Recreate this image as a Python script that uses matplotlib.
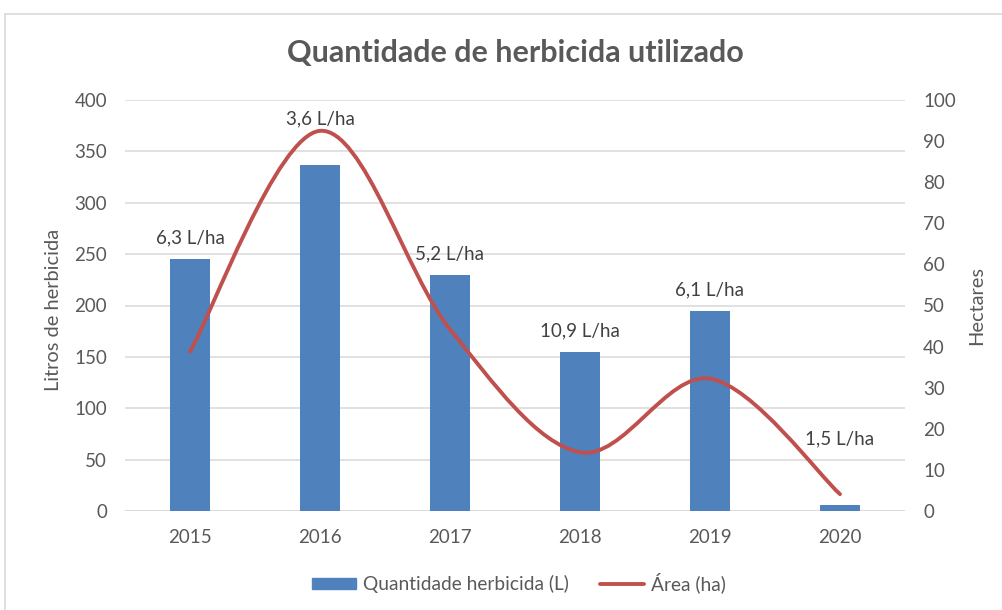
import numpy as np
import matplotlib
matplotlib.use('Agg')
import matplotlib.pyplot as plt
from matplotlib.path import Path
from matplotlib.patches import PathPatch, Rectangle
from matplotlib.lines import Line2D

plt.rcParams['font.family'] = ['Lato', 'DejaVu Sans']

# data
years = ['2015', '2016', '2017', '2018', '2019', '2020']
litros = [245, 337, 230, 155, 195, 6]          # Quantidade herbicida (L)
area = [38.8, 92.5, 44.2, 14.3, 32.2, 4.1]     # Área (ha)
rotulos = ['6,3 L/ha', '3,6 L/ha', '5,2 L/ha', '10,9 L/ha', '6,1 L/ha', '1,5 L/ha']

blue = '#4f81bd'
red = '#c0504d'
grey = '#595959'

fig = plt.figure(figsize=(10.03, 6.10), dpi=100)
# chart border
fig.patches.append(Rectangle((5 / 1003, -0.01), 1.0, (596 + 6) / 610, transform=fig.transFigure,
                             fill=False, ec='#d9d9d9', lw=1.2))

ax = fig.add_axes([125 / 1003, 99 / 610, 780 / 1003, 411 / 610])
ax2 = ax.twinx()

x = np.arange(len(years))
ax.bar(x, litros, width=0.31, color=blue, zorder=2)
ax.set_xlim(-0.5, len(years) - 0.5)
ax.set_ylim(0, 400)
ax.set_yticks(range(0, 401, 50))
ax.set_xticks(x)
ax.set_xticklabels(years)
ax.yaxis.grid(True, color='#d9d9d9', lw=1.1, zorder=0)
ax.set_axisbelow(True)
for a in (ax, ax2):
    for s in a.spines.values():
        s.set_visible(False)
    a.tick_params(length=0, labelsize=13.5, colors=grey, pad=13)
ax.tick_params(axis='x', pad=13)
ax.axhline(0, color='#d9d9d9', lw=1.1, zorder=1)

ax.set_ylabel('Litros de herbicida', fontsize=14.4, color=grey)
ax.yaxis.set_label_coords(-0.081, 0.49)
ax2.set_ylabel('Hectares', fontsize=14.4, color=grey)
ax2.yaxis.set_label_coords(1.081, 0.50)
ax2.set_ylim(0, 100)
ax2.set_yticks(range(0, 101, 10))

# smoothed line (bezier through the points, like Excel smoothing)
pts = np.column_stack([x, area])
verts = [pts[0]]
codes = [Path.MOVETO]
n = len(pts)
for i in range(n - 1):
    p0 = pts[max(i - 1, 0)]
    p1 = pts[i]
    p2 = pts[i + 1]
    p3 = pts[min(i + 2, n - 1)]
    c1 = p1 + (p2 - p0) / 6.0
    c2 = p2 - (p3 - p1) / 6.0
    verts += [c1, c2, p2]
    codes += [Path.CURVE4] * 3
ax2.add_patch(PathPatch(Path(verts, codes), fill=False, ec=red, lw=2.8,
                        capstyle='round', joinstyle='round', zorder=3))

# data labels (pixel offsets of baseline above bar tops)
label_dy = [16, 40, 15, 15, 15, 60]
for i, txt in enumerate(rotulos):
    ax.annotate(txt, (x[i], litros[i]), xytext=(0, label_dy[i] * 0.72),
                textcoords='offset points', ha='center', va='baseline',
                fontsize=13.5, color='#404040', zorder=4)

fig.text(515 / 1003, 1 - 53 / 610, 'Quantidade de herbicida utilizado', ha='center', va='center',
         fontsize=22, fontweight='bold', color=grey)

handles = [Rectangle((0, 0), 1, 1, color=blue),
           Line2D([0], [0], color=red, lw=2.8, solid_capstyle='round')]
fig.legend(handles, ['Quantidade herbicida (L)', 'Área (ha)'], loc='center',
           bbox_to_anchor=(519 / 1003, 1 - 583 / 610), ncol=2, frameon=False,
           fontsize=13.8, labelcolor=grey, handlelength=2.3, handletextpad=0.37,
           columnspacing=1.6, handleheight=0.45)

fig.savefig('out.png', dpi=100)
